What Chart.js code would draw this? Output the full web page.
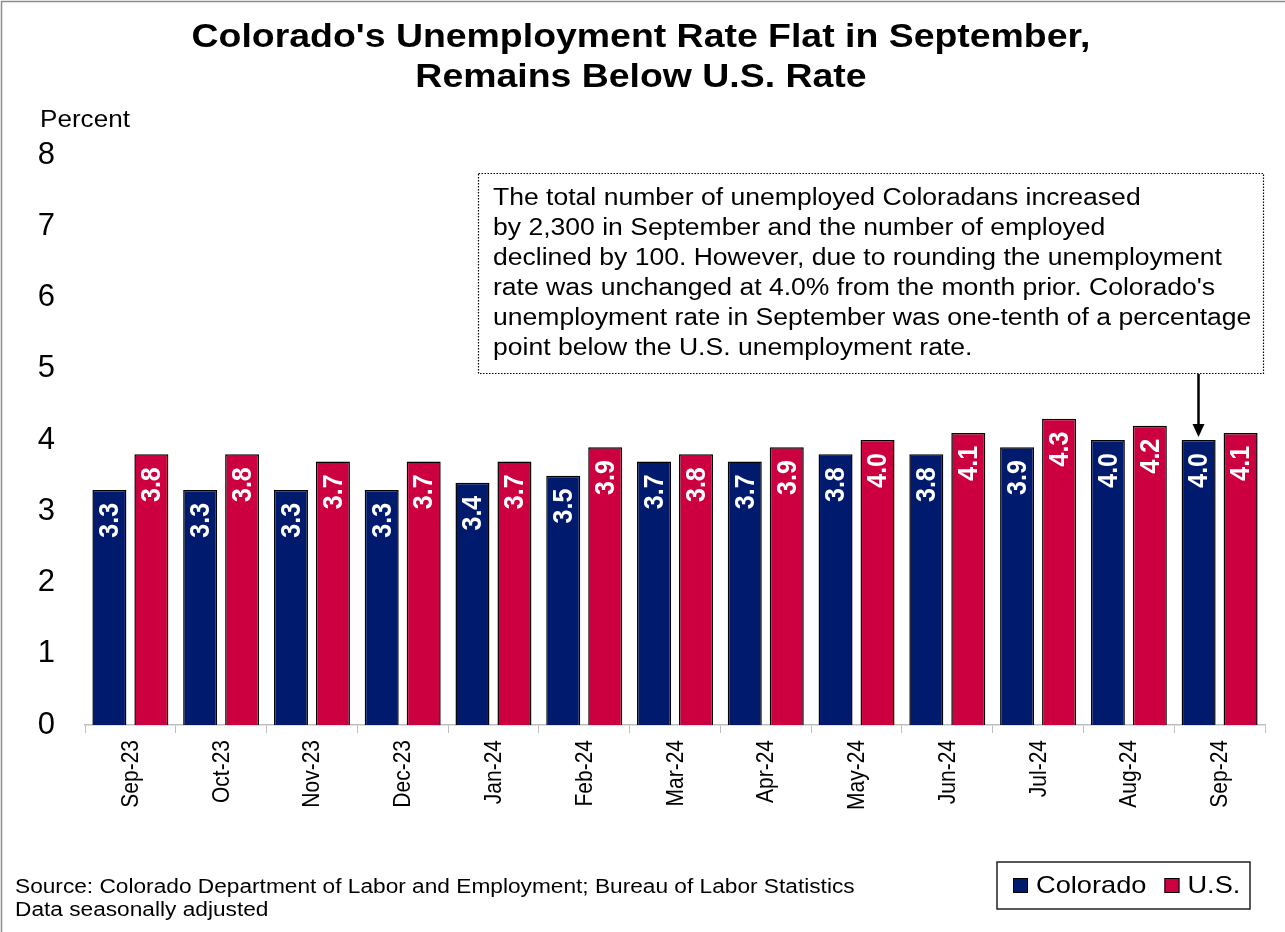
<!DOCTYPE html>
<html>
<head>
<meta charset="utf-8">
<title>Colorado Unemployment Rate</title>
<script src="https://cdn.jsdelivr.net/npm/chart.js@4/dist/chart.umd.min.js"></script>
<style>
    html, body { margin: 0; padding: 0; background: #fff; }
    #wrap { position: relative; width: 1285px; height: 932px; }
</style>
</head>
<body>
<div id="wrap"><canvas id="myChart" width="1285" height="932"></canvas></div>
<script>

var months = ["Sep-23", "Oct-23", "Nov-23", "Dec-23", "Jan-24", "Feb-24", "Mar-24",
              "Apr-24", "May-24", "Jun-24", "Jul-24", "Aug-24", "Sep-24"];

var colorado = [3.3, 3.3, 3.3, 3.3, 3.4, 3.5, 3.7, 3.7, 3.8, 3.8, 3.9, 4.0, 4.0];
var us       = [3.8, 3.8, 3.7, 3.7, 3.7, 3.9, 3.8, 3.9, 4.0, 4.1, 4.3, 4.2, 4.1];

var titleLines = ["Colorado's Unemployment Rate Flat in September,", "Remains Below U.S. Rate"];

var noteLines = [
    "The total number of unemployed Coloradans increased",
    "by 2,300 in September and the number of employed",
    "declined by 100. However, due to rounding the unemployment",
    "rate was unchanged at 4.0% from the month prior. Colorado's",
    "unemployment rate in September was one-tenth of a percentage",
    "point below the U.S. unemployment rate."
];

var sourceLines = [
    "Source: Colorado Department of Labor and Employment; Bureau of Labor Statistics",
    "Data seasonally adjusted"
];

var FONT = "'Liberation Sans', Arial, sans-serif";
var BLUE = "#001a6e";
var RED = "#cc0040";
var WIDE = 1.134;   // text in this layout is set a little wide

// draws text stretched horizontally by sx around its anchor
function wideText(ctx, text, x, y, sx) {
    ctx.save();
    ctx.translate(x, y);
    ctx.scale(sx, 1);
    ctx.fillText(text, 0, 0);
    ctx.restore();
}

// draws text rotated to read upward, stretched across the page by sx
function upText(ctx, text, x, y, sx) {
    ctx.save();
    ctx.translate(x, y);
    ctx.scale(sx, 1);
    ctx.rotate(-Math.PI / 2);
    ctx.fillText(text, 0, 0);
    ctx.restore();
}

// white rotated value labels near the top of each bar
var barLabels = {
    id: 'barLabels',
    afterDatasetsDraw: function(chart) {
        var ctx = chart.ctx;
        ctx.save();
        ctx.fillStyle = "#fff";
        ctx.font = "bold 25px " + FONT;
        ctx.textAlign = "right";
        ctx.textBaseline = "middle";
        chart.data.datasets.forEach(function(ds, i) {
            chart.getDatasetMeta(i).data.forEach(function(bar, j) {
                upText(ctx, ds.data[j].toFixed(1), bar.x + 1, bar.y + 13, WIDE);
            });
        });
        ctx.restore();
    }
};

// month labels under the x axis, placed at the scale's tick positions
var monthLabels = {
    id: 'monthLabels',
    afterDraw: function(chart) {
        var ctx = chart.ctx;
        var xs = chart.scales.x;
        ctx.save();
        ctx.fillStyle = "#000";
        ctx.font = "21px " + FONT;
        ctx.textAlign = "right";
        ctx.textBaseline = "middle";
        xs.ticks.forEach(function(t, i) {
            upText(ctx, chart.data.labels[i], xs.getPixelForTick(i) + 1, xs.top + 15, WIDE);
        });
        ctx.restore();
    }
};

// title, axis caption, note box with arrow, source and legend
var extras = {
    id: 'extras',
    afterDraw: function(chart) {
        var ctx = chart.ctx;
        ctx.save();

        // frame
        ctx.strokeStyle = "#8c8c8c";
        ctx.lineWidth = 1.5;
        ctx.beginPath();
        ctx.moveTo(1.5, 932);
        ctx.lineTo(1.5, 1.5);
        ctx.lineTo(1285, 1.5);
        ctx.stroke();

        ctx.fillStyle = "#000";
        ctx.textAlign = "center";
        ctx.textBaseline = "alphabetic";
        ctx.font = "bold 33px " + FONT;
        wideText(ctx, titleLines[0], 641, 47, WIDE);
        wideText(ctx, titleLines[1], 641, 87, WIDE);

        ctx.textAlign = "left";
        ctx.font = "23px " + FONT;
        wideText(ctx, "Percent", 40, 127, WIDE);

        // note box
        ctx.setLineDash([1.5, 1.5]);
        ctx.lineWidth = 1.2;
        ctx.strokeStyle = "#000";
        ctx.strokeRect(478.5, 173.5, 785, 200);
        ctx.setLineDash([]);
        ctx.font = "24.7px " + FONT;
        noteLines.forEach(function(line, i) {
            wideText(ctx, line, 493, 205 + i * 30, 1.075);
        });

        // arrow to the latest Colorado bar
        var bar = chart.getDatasetMeta(0).data[colorado.length - 1];
        var ax = Math.round(bar.x) - 0.5;
        ctx.lineWidth = 2.5;
        ctx.beginPath();
        ctx.moveTo(ax, 374);
        ctx.lineTo(ax, bar.y - 14);
        ctx.stroke();
        ctx.beginPath();
        ctx.moveTo(ax - 6, bar.y - 16);
        ctx.lineTo(ax + 6, bar.y - 16);
        ctx.lineTo(ax, bar.y - 3);
        ctx.closePath();
        ctx.fill();

        // source
        ctx.font = "20px " + FONT;
        sourceLines.forEach(function(line, i) {
            wideText(ctx, line, 15, 893 + i * 23, WIDE);
        });

        // legend
        ctx.lineWidth = 1.5;
        ctx.strokeStyle = "#222";
        ctx.strokeRect(997, 862, 253, 47);
        ctx.font = "24px " + FONT;
        ctx.textBaseline = "middle";
        var lx = 1013;
        chart.data.datasets.forEach(function(ds) {
            ctx.fillStyle = ds.backgroundColor;
            ctx.fillRect(lx, 878, 15, 15);
            ctx.lineWidth = 1;
            ctx.strokeStyle = "#000";
            ctx.strokeRect(lx + 0.5, 878.5, 14, 14);
            ctx.fillStyle = "#000";
            wideText(ctx, ds.label, lx + 23, 886, WIDE);
            lx += 23 + ctx.measureText(ds.label).width * WIDE + 18;
        });

        ctx.restore();
    }
};

const el = document.getElementById('myChart');

const data = {
    labels: months,
    datasets: [
        {
            label: "Colorado",
            data: colorado,
            backgroundColor: BLUE,
            borderColor: "#000",
            borderWidth: 1.5,
            categoryPercentage: 0.925,
            barPercentage: 0.81
        },
        {
            label: "U.S.",
            data: us,
            backgroundColor: RED,
            borderColor: "#000",
            borderWidth: 1.5,
            categoryPercentage: 0.925,
            barPercentage: 0.81
        }
    ]
};

const config = {
    type: 'bar',
    data: data,
    plugins: [barLabels, monthLabels, extras],
    options: {
        responsive: false,
        animation: false,
        layout: { padding: { top: 155, left: 10, right: 20, bottom: 117 } },
        plugins: {
            legend: { display: false },
            title: { display: false },
            tooltip: { enabled: false }
        },
        scales: {
            x: {
                grid: {
                    display: true,
                    drawOnChartArea: false,
                    drawTicks: true,
                    tickLength: 8,
                    color: "#bfbfbf",
                    offset: true
                },
                border: { display: true, color: "#bfbfbf", width: 1.5 },
                ticks: {
                    color: "rgba(0,0,0,0)",
                    font: { family: FONT, size: 21 },
                    maxRotation: 90,
                    minRotation: 90,
                    padding: 6
                },
                afterFit: function(scale) { scale.height = 90; }
            },
            y: {
                min: 0,
                max: 8,
                grid: { display: false, drawTicks: false },
                border: { display: false },
                ticks: {
                    stepSize: 1,
                    color: "#000",
                    font: { family: FONT, size: 31 },
                    padding: 30
                },
                afterFit: function(scale) { scale.width = 75; }
            }
        }
    }
};

new Chart(el, config);
</script>
</body>
</html>
